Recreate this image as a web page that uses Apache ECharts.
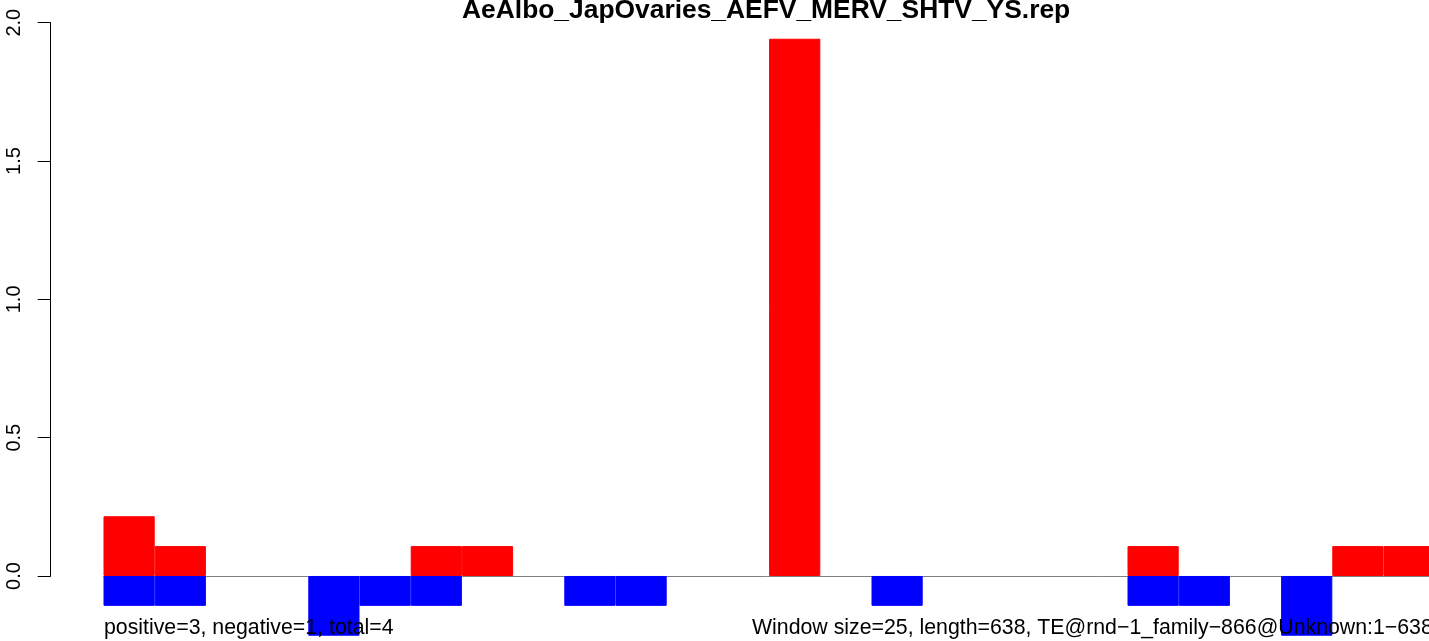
<!DOCTYPE html>
<html>
<head>
<meta charset="utf-8">
<script src="https://cdn.jsdelivr.net/npm/echarts@6/dist/echarts.min.js"></script>
<style>
  html, body { margin: 0; padding: 0; background: #ffffff; }
  #chart { width: 1429px; height: 641px; }
</style>
</head>
<body>
<div id="chart"></div>
<script>
// ---- data (null = no bar in that window) ----
const titleText = 'AeAlbo_JapOvaries_AEFV_MERV_SHTV_YS.rep';
const leftNote = 'positive=3, negative=1, total=4';
const rightNote = 'Window size=25, length=638, TE@rnd\u22121_family\u2212866@Unknown:1\u2212638';
const categories = ['1','2','3','4','5','6','7','8','9','10','11','12','13',
                    '14','15','16','17','18','19','20','21','22','23','24','25','26'];
const positiveValues = [0.216, 0.108, null, null, null, null, 0.108, 0.108, null, null, null, null, null,
                        1.942, null, null, null, null, null, null, 0.108, null, null, null, 0.108, 0.108];
const negativeValues = [-0.108, -0.108, null, null, -0.216, -0.108, -0.108, null, null, -0.108, -0.108, null, null,
                        null, null, -0.108, null, null, null, null, -0.108, -0.108, null, -0.216, null, null];
const yTicks = [0, 0.5, 1.0, 1.5, 2.0];

const FONT = '"Liberation Sans", Arial, Helvetica, sans-serif';
const chart = echarts.init(document.getElementById('chart'), null, { renderer: 'canvas' });

const option = {
  backgroundColor: '#ffffff',
  animation: false,
  title: [
    { text: titleText, left: 462, top: -2, padding: 0,
      textStyle: { fontFamily: FONT, fontWeight: 'bold', fontSize: 26.4, color: '#000' } },
    { text: leftNote, left: 104, top: 618, padding: 0,
      textStyle: { fontFamily: FONT, fontWeight: 'normal', fontSize: 21.3, color: '#000' } },
    { text: rightNote, left: 752, top: 618, padding: 0,
      textStyle: { fontFamily: FONT, fontWeight: 'normal', fontSize: 21.3, color: '#000' } }
  ],
  grid: [
    { left: 50.7, top: 22.7, width: 1, height: 553.3, containLabel: false, outerBoundsMode: 'none' },
    { left: 103.5, top: 22.7, width: 1331.2, height: 616.9, containLabel: false, outerBoundsMode: 'none' }
  ],
  xAxis: [
    { gridIndex: 0, type: 'value', show: false },
    { gridIndex: 1, type: 'category', data: categories, boundaryGap: true,
      axisLine: { show: true, onZero: true, lineStyle: { color: '#808080', width: 1 } },
      axisTick: { show: false }, axisLabel: { show: false }, splitLine: { show: false } }
  ],
  yAxis: [
    { gridIndex: 0, type: 'value', min: yTicks[0], max: yTicks[yTicks.length - 1], interval: 0.5,
      axisLine: { show: true, lineStyle: { color: '#000', width: 1 } },
      axisTick: { show: true, length: 13, lineStyle: { color: '#000', width: 1 } },
      axisLabel: { show: true, rotate: 90, margin: 26, fontFamily: FONT, fontSize: 20, color: '#000',
                   formatter: v => v.toFixed(1) },
      splitLine: { show: false } },
    { gridIndex: 1, type: 'value', min: -0.23, max: 2, show: false, splitLine: { show: false } }
  ],
  series: [
    { type: 'bar', name: 'positive', xAxisIndex: 1, yAxisIndex: 1, data: positiveValues,
      barWidth: '100%', barGap: '-100%',
      itemStyle: { color: '#ff0000', borderColor: '#ff0000', borderWidth: 1 } },
    { type: 'bar', name: 'negative', xAxisIndex: 1, yAxisIndex: 1, data: negativeValues,
      barWidth: '100%', barGap: '-100%',
      itemStyle: { color: '#0000ff', borderColor: '#0000ff', borderWidth: 1 } }
  ]
};
chart.setOption(option);
</script>
</body>
</html>
